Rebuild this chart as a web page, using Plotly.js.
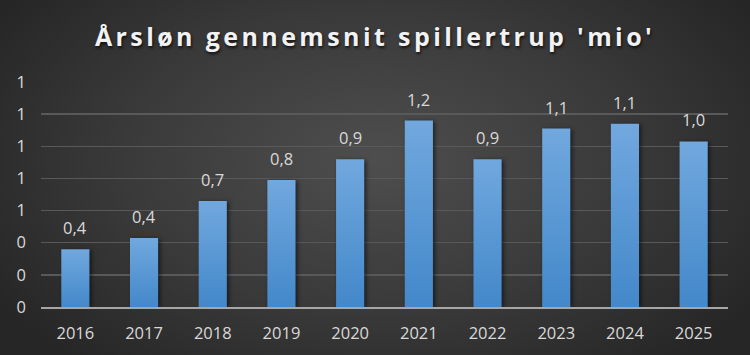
<!DOCTYPE html>
<html>
<head>
<meta charset="utf-8">
<script src="https://cdn.plot.ly/plotly-3.0.1.min.js"></script>
<style>
html,body{margin:0;padding:0;}
#chart{width:750px;height:355px;background:radial-gradient(ellipse 60% 75% at 50% 45%, #4e4e4e 0%, #3a3a3a 55%, #262626 100%);}
#chart .gtitle{letter-spacing:3.4px;}
#chart .trace.bars .point path{fill:url(#barGrad) !important; filter:drop-shadow(2px 1px 2px rgba(0,0,0,0.55));}
</style>
</head>
<body>
<svg width="0" height="0" style="position:absolute">
  <defs>
    <linearGradient id="barGrad" x1="0" y1="0" x2="0" y2="1">
      <stop offset="0" stop-color="#71a8de"/>
      <stop offset="1" stop-color="#4388ca"/>
    </linearGradient>
  </defs>
</svg>
<div id="chart"></div>
<script>
const years = ['2016','2017','2018','2019','2020','2021','2022','2023','2024','2025'];
const salary = [0.36, 0.43, 0.66, 0.79, 0.92, 1.16, 0.92, 1.11, 1.14, 1.03];
const titleText = "Årsløn gennemsnit spillertrup 'mio'";

const labelFont = {family: 'Open Sans, sans-serif', size: 16.5, color: '#d9d9d9'};

const trace = {
  type: 'bar',
  x: years,
  y: salary,
  marker: {color: '#5b9bd5'},
  hoverinfo: 'none'
};

const annotations = years.map((yr, i) => ({
  x: i, y: salary[i],
  xref: 'x', yref: 'y',
  text: salary[i].toFixed(1).replace('.', ','),
  showarrow: false,
  yanchor: 'bottom',
  yshift: 8,
  font: labelFont
}));

const layout = {
  width: 750, height: 355,
  paper_bgcolor: 'rgba(0,0,0,0)',
  plot_bgcolor: 'rgba(0,0,0,0)',
  margin: {l: 41, r: 22, t: 82, b: 48},
  separators: ', ',
  bargap: 0.59,
  showlegend: false,
  annotations: annotations,
  title: {
    text: titleText,
    font: {family: 'Open Sans, sans-serif', size: 25, color: '#f2f2f2', weight: 'bold',
           shadow: '1px 2px 3px rgba(0,0,0,0.7)'},
    x: 0.5, xanchor: 'center', y: 0.895, yanchor: 'middle'
  },
  xaxis: {
    type: 'category',
    showgrid: false,
    showline: true, linecolor: '#a6a6a6', linewidth: 2,
    ticks: '',
    tickfont: labelFont,
    ticklabelstandoff: 10
  },
  yaxis: {
    range: [0, 1.4],
    dtick: 0.2, tick0: 0,
    tickformat: '.0f',
    showgrid: true, gridcolor: '#595959', gridwidth: 1.5,
    zeroline: false,
    showline: false,
    ticks: '',
    tickfont: labelFont,
    ticklabelstandoff: 14
  }
};

Plotly.newPlot('chart', [trace], layout, {displayModeBar: false, staticPlot: true});
</script>
</body>
</html>
